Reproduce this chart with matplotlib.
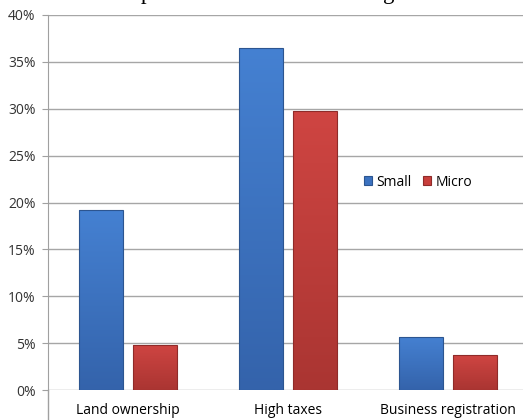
import numpy as np
import matplotlib.pyplot as plt
from matplotlib.colors import LinearSegmentedColormap

categories = ["Land ownership", "High taxes", "Business registration"]
small = [19.2, 36.5, 5.7]
micro = [4.8, 29.8, 3.7]
title = "Main problems faced when doing business"

fig = plt.figure(figsize=(5.23, 4.2), dpi=100)
ax = fig.add_axes([0.0918, 0.0714, 0.9178, 0.8929])

x = np.arange(len(categories))
w = 0.27
off = 0.169
b1 = ax.bar(x - off, small, w, color="#3b72c0", edgecolor="#2c5590", linewidth=0.8,
            label="Small", zorder=3)
b2 = ax.bar(x + off, micro, w, color="#c83e3b", edgecolor="#8f2b29", linewidth=0.8,
            label="Micro", zorder=3)

# gradient fill, lighter at the top like the original
grad = np.linspace(0, 1, 256).reshape(-1, 1)
cm_blue = LinearSegmentedColormap.from_list("b", ["#3463ab", "#4581d2"])
cm_red = LinearSegmentedColormap.from_list("r", ["#aa3532", "#cf4542"])
for bars, cm in [(b1, cm_blue), (b2, cm_red)]:
    for p in bars:
        x0, y0 = p.get_x(), p.get_y()
        x1, y1 = x0 + p.get_width(), y0 + p.get_height()
        im = ax.imshow(grad, extent=[x0, x1, y0, y1], origin="lower", cmap=cm,
                       aspect="auto", zorder=3.5)
        im.set_clip_path(p)
        p.set_facecolor("none")
        p.set_zorder(4)

ax.set_xlim(-0.5, 2.5)
ax.set_ylim(0, 40)
ax.set_yticks(np.arange(0, 41, 5))
ax.set_yticklabels([f"{v}%" for v in range(0, 41, 5)], fontsize=10,
                   family="Open Sans", color="#333333")
ax.set_xticks(x)
ax.set_xticklabels(categories, fontsize=10, family="Open Sans")
ax.tick_params(axis="x", length=0, pad=9)
ax.tick_params(axis="y", length=4, color="#a0a0a0", pad=5)
ax.yaxis.grid(True, color="#a6a6a6", linewidth=1)
ax.set_axisbelow(True)
for s in ["top", "right", "bottom"]:
    ax.spines[s].set_visible(False)
ax.spines["left"].set_color("#a0a0a0")
ax.spines["left"].set_bounds(0, 40)
ax.plot([0, 0], [-0.09, 0], transform=ax.transAxes, color="#a0a0a0",
        linewidth=1, clip_on=False)

leg = ax.legend(loc="upper left", bbox_to_anchor=(0.632, 0.608), ncol=2, frameon=False,
                handlelength=0.6, handleheight=0.6, handletextpad=0.3, columnspacing=0.8,
                prop={"family": "Open Sans", "size": 10})
leg.legend_handles[0].set_facecolor("#3b72c0")
leg.legend_handles[1].set_facecolor("#c83e3b")

fig.text(0.166, 1.0 + 1 / 420, title, fontsize=16.5, family="Liberation Serif",
         va="baseline", ha="left")

fig.savefig("out.png", dpi=100)
